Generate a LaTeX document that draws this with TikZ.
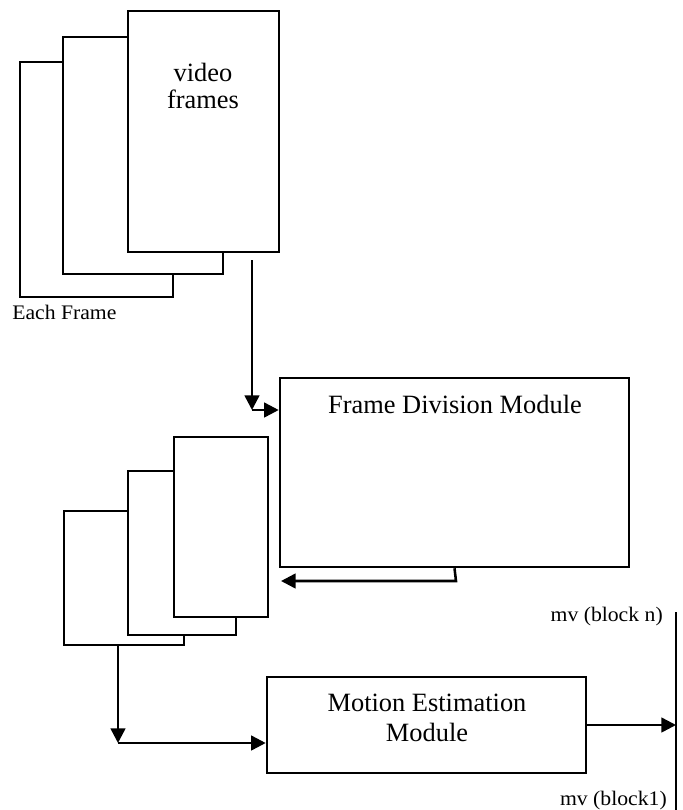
\documentclass[tikz,border=0pt]{standalone}
\usepackage{fontspec}
\setmainfont{Liberation Serif}
\newfontfamily\labelfont[FakeStretch=1.05]{Liberation Serif}
\usetikzlibrary{arrows.meta}

\tikzset{
  framebox/.style={draw,fill=white,line width=1.9pt,inner sep=0pt},
  modbox/.style={draw,line width=1.9pt,inner sep=0pt},
  conn/.style={line width=1.9pt,-{Triangle[length=11pt,width=11pt]}},
  plainline/.style={line width=1.9pt},
  boxtext/.style={inner sep=0pt,font=\fontsize{19.8}{22.5}\selectfont},
  smalltext/.style={inner sep=0pt,font=\labelfont\fontsize{15.5}{18}\selectfont}
}

\begin{document}
\begin{tikzpicture}[x=0.75pt,y=-0.75pt]
\useasboundingbox (0,0) rectangle (682,810);

% stack of video frames
\node[framebox,minimum width=114.75pt,minimum height=176.25pt] (frA3) at (96.5,179.5) {};
\node[framebox,minimum width=120pt,minimum height=177.75pt] (frA2) at (143,155.5) {};
\node[framebox,minimum width=113.25pt,minimum height=180.75pt] (frA1) at (203.5,131.5) {};
\node[boxtext,align=center,anchor=north,font=\fontsize{19.8}{20}\selectfont] (vftext) at (203,63) {video\\frames};
\node[smalltext,anchor=base west] (eachfr) at (12,319) {Each Frame};

% modules
\node[modbox,minimum width=261.75pt,minimum height=141.75pt] (divide) at (454.5,472.5) {};
\node[boxtext,anchor=base] (dividetext) at (455,413) {Frame Division Module};

\node[modbox,minimum width=239.25pt,minimum height=72pt] (motion) at (426.5,725) {};
\node[boxtext,align=center,anchor=north] (motiontext) at (427,694) {Motion Estimation\\Module};

% stack of blocks
\node[framebox,minimum width=90pt,minimum height=100.5pt] (frB3) at (124,578) {};
\node[framebox,minimum width=81pt,minimum height=123pt] (frB2) at (182,553) {};
\node[framebox,minimum width=70.5pt,minimum height=135pt] (frB1) at (221,527) {};

% motion vectors
\coordinate (mvtop) at (676,612);
\coordinate (mvbot) at (676,810);
\draw[plainline] (mvtop) -- (mvbot);
\node[smalltext,anchor=base east] (mvn) at (663,621) {mv (block n)};
\node[smalltext,anchor=base east] (mv1) at (667,805) {mv (block1)};

% connectors
\coordinate (c1) at (252,260);
\coordinate (c2) at (252,410);
\draw[conn] (c1) -- (c2);
\draw[conn] (c2) -- (divide.west |- c2);

\coordinate (c3) at (456,581);
\coordinate (c4) at (281,581);
\draw[conn] (divide.south) -- (c3) -- (c4);

\coordinate (c5) at (118,743);
\draw[conn] (frB3.south -| c5) -- (c5);
\draw[conn] (c5) -- (motion.west |- c5);

\draw[conn] (motion.east) -- (motion.east -| mvtop);
\end{tikzpicture}
\end{document}
